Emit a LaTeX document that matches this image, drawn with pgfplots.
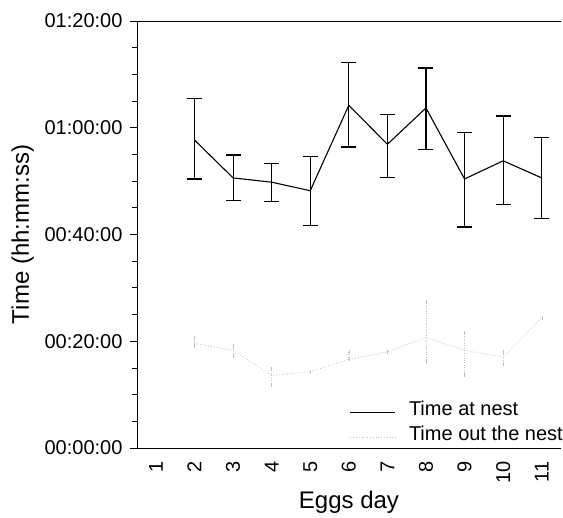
\documentclass[border=0pt]{standalone}
\usepackage{pgfplots}
\pgfplotsset{compat=1.18}
\usepackage{fontspec}
\setmainfont{Liberation Sans}
\newcommand{\tf}{\fontsize{20}{22}\selectfont}

% minutes; day, mean, upper error, lower error
\pgfplotstableread{
day mean up lo
2  57.7 7.7 7.3
3  50.6 4.3 4.3
4  49.8 3.5 3.7
5  48.2 6.4 6.5
6  64.2 8.0 7.8
7  56.9 5.6 6.2
8  63.7 7.5 7.7
9  50.4 8.7 9.0
10 53.8 8.4 8.2
11 50.6 7.6 7.6
}\atnest
\pgfplotstableread{
day mean up lo
2  19.6 1.0 0.5
3  18.3 0.9 1.1
4  13.6 1.2 1.8
5  14.3 0.0 0.0
6  16.6 1.4 0.0
7  18.0 0.0 0.0
8  20.7 6.6 4.6
9  18.3 3.2 4.7
10 17.0 1.0 1.3
11 24.4 0.0 0.0
}\outnest

\begin{document}
\begin{tikzpicture}
\begin{axis}[
    scale only axis, width=424pt, height=427pt,
    xmin=0.51, xmax=11.5, ymin=0, ymax=80,
    axis x line*=box, axis y line*=left,
    xtick={1,...,11}, xticklabels={1,2,3,4,5,6,7,8,9,10,11},
    xtick pos=bottom, xtick style={draw=none},
    minor xtick={1,...,11},
    ytick={0,20,40,60,80},
    yticklabels={00:00:00,00:20:00,00:40:00,01:00:00,01:20:00},
    minor y tick num=3,
    tick align=outside, major tick length=7pt, minor tick length=5pt,
    tick style={black, line width=0.8pt},
    axis line style={line width=0.9pt},
    xticklabel style={font=\tf, rotate=90, anchor=east, xshift=-3pt},
    yticklabel style={font=\tf, xshift=-4pt},
    xlabel={Eggs day}, ylabel={Time (hh:mm:ss)},
    label style={font=\fontsize{24}{26}\selectfont},
    ylabel shift=4pt,
    legend style={at={(1,0)}, anchor=south east, xshift=3pt, yshift=-2pt,
        draw=none, fill=none, inner sep=0pt, row sep=0pt, column sep=12pt,
        font=\tf,
        nodes={inner sep=1pt, text height=15pt, text depth=8pt}},
    legend cell align=left,
    legend image code/.code={\draw[#1] (0pt,0pt) -- (45pt,0pt);},
]
\addplot[black, line width=1.1pt,
    error bars/.cd, y dir=both, y explicit,
    error bar style={line width=1.1pt},
    error mark options={rotate=90, mark size=7.5pt, line width=1.1pt}]
    table[x=day, y=mean, y error plus=up, y error minus=lo] {\atnest};
\addlegendentry{Time at nest}
\addplot[gray!50, dotted, line width=0.8pt,
    error bars/.cd, y dir=both, y explicit,
    error bar style={dotted, line width=0.8pt},
    error mark options={draw=none}]
    table[x=day, y=mean, y error plus=up, y error minus=lo] {\outnest};
\addlegendentry{Time out the nest}
\end{axis}
\pgfresetboundingbox
\path ([xshift=-137pt,yshift=-70pt]current axis.south west) rectangle ([xshift=2pt,yshift=21pt]current axis.north east);
\end{tikzpicture}
\end{document}
